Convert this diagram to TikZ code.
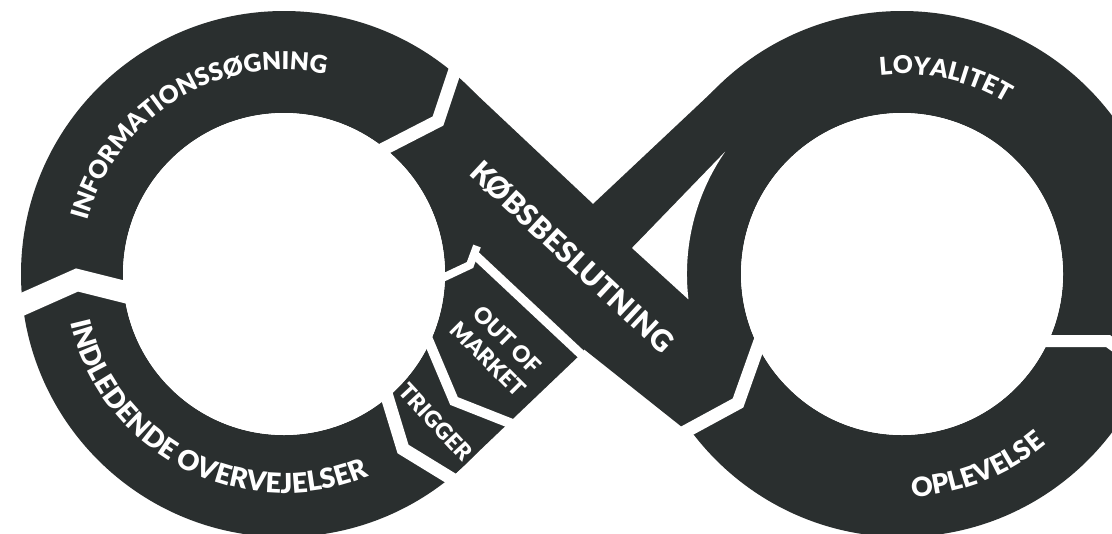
\documentclass[tikz,border=0pt]{standalone}
\usepackage{fontspec}
\setmainfont{Lato}[BoldFont={Lato Black}]
\usetikzlibrary{decorations.text}

\definecolor{loopdark}{HTML}{2A2F2F}
\newcommand{\looplabel}[1]{\fontsize{#1}{#1}\selectfont\bfseries}
\newcommand{\smalllabel}{\fontsize{16}{19.5}\selectfont\bfseries}

\begin{document}
\begin{tikzpicture}[
    x=0.25mm, y=-0.25mm,
    ringfill/.style={fill=loopdark},
    gapline/.style={draw=white, line width=#1*0.25mm, line join=miter},
    arclabel/.style 2 args={decorate, decoration={text along path, text align=center,
        text color=white, text={|\looplabel{#1}|#2}}},
    steplabel/.style={text=white, font=\smalllabel, align=center, inner sep=0pt},
]
    \useasboundingbox (0,0) rectangle (1112,533);
    \fill[white] (0,0) rectangle (1112,533);
    \clip (0,0) rectangle (1112,533);

    % Rings
    \fill[ringfill, even odd rule] (284,274) circle[radius=263] (284,274) circle[radius=161];
    \fill[ringfill, even odd rule] (902,274) circle[radius=263] (902,274) circle[radius=161];

    % Crossing bands
    \fill[ringfill] (727,78) -- (593,204) -- (455,335) -- (455,474) -- (583,352)
        -- (632,248) -- (760,120) -- cycle;
    \fill[ringfill] (459,78) -- (593,204) -- (685,300) -- (730,345) -- (770,400)
        -- (692,435) -- (585,350) -- (478,250) -- (468,230) -- cycle;

    % Holes and the cut beside the right ring
    \fill[white] (284,274) circle[radius=161];
    \fill[white] (902,274) circle[radius=161];
    \fill[white] (632,248) -- (725.2,151.6)
        arc[start angle=214.7, end angle=173.2, radius=215] -- cycle;

    % Gaps between the phases
    \draw[gapline=22] (5,312) -- (77,280) -- (145,297);
    \draw[gapline=13] (460,55) -- (438,121) -- (366,158);
    \draw[gapline=13] (382,380) -- (403,449) -- (470,490);
    \draw[gapline=10] (424,330) -- (454,401) -- (530,431);
    \draw[gapline=13] (765,327) -- (738,403) -- (668,441);
    \draw[gapline=12] (1030,341) -- (1108,341) -- (1150,372);
    \draw[gapline=8] (436,281) -- (470,265) -- (477,246);
    \draw[gapline=9] (474,254) -- (600,372);

    % Curved labels
    \path[arclabel={17.5}{INFORMATIONSSØGNING}, shift={(284,274)}]
        (148.5:204) arc[start angle=148.5, end angle=328.5, radius=204];
    \path[arclabel={19.5}{INDLEDENDE OVERVEJELSER}, shift={(284,274)}]
        (207.2:219) arc[start angle=207.2, end angle=27.2, radius=219];
    \path[arclabel={17.5}{LOYALITET}, shift={(902,274)}]
        (192.5:200) arc[start angle=192.5, end angle=372.5, radius=200];
    \path[arclabel={19}{OPLEVELSE}, shift={(902,274)}]
        (158.6:223) arc[start angle=158.6, end angle=-21.4, radius=223];

    % Straight labels
    \node[steplabel, font=\looplabel{21}, rotate=-43] (kobs) at (572,257) {KØBSBESLUTNING};
    \node[steplabel, rotate=-45] (market) at (498,349) {OUT OF\\MARKET};
    \node[steplabel, rotate=-47] (trigger) at (436,422) {TRIGGER};
\end{tikzpicture}
\end{document}
